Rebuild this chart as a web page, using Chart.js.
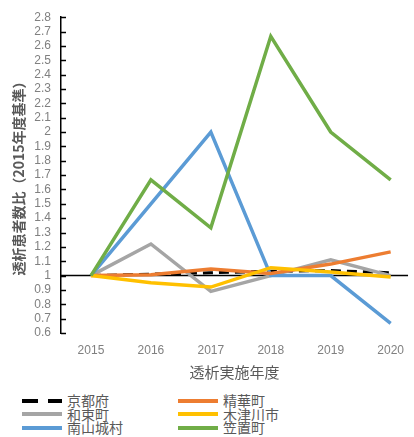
<!DOCTYPE html>
<html lang="ja">
<head>
<meta charset="UTF-8">
<title>透析患者数比</title>
<script src="https://cdn.jsdelivr.net/npm/chart.js"></script>
<style>
  body { margin: 0; background: #fff; font-family: "Liberation Sans", "Noto Sans CJK JP", sans-serif; }
  .wrap { position: relative; width: 414px; height: 437px; overflow: hidden; }
  #chart { position: absolute; left: 0; top: 0; }
  .legend { position: absolute; left: 22px; top: 394px; display: grid; grid-template-columns: 156px 180px; grid-auto-flow: column; grid-template-rows: repeat(3, 13.5px); }
  .legend div { display: flex; align-items: center; font-size: 14px; color: #595959; font-family: "Noto Sans CJK JP", sans-serif; line-height: 13.5px; white-space: nowrap; }
  .legend span { display: inline-block; width: 40px; height: 4px; margin-right: 5px; }
</style>
</head>
<body>
<div class="wrap">
  <canvas id="chart" width="414" height="381"></canvas>
  <div class="legend" id="legend"></div>
</div>
<script>
// fiscal years
const years = [2015, 2016, 2017, 2018, 2019, 2020];

// ratio of dialysis patients vs FY2015
const kyotoFu     = [1, 1.01, 1.02, 1.03, 1.035, 1.02];
const wazukaCho   = [1, 1.22, 0.89, 1.0, 1.11, 1.0];
const minamiyamashiro = [1, 1.5, 2.0, 1.0, 1.0, 0.667];
const seikaCho    = [1, 1.005, 1.045, 1.015, 1.08, 1.165];
const kizugawaShi = [1, 0.95, 0.92, 1.055, 1.025, 0.99];
const kasagiCho   = [1, 1.667, 1.333, 2.667, 2.0, 1.667];

const seriesNames = ['京都府', '和束町', '南山城村', '精華町', '木津川市', '笠置町'];
const seriesData = [kyotoFu, wazukaCho, minamiyamashiro, seikaCho, kizugawaShi, kasagiCho];
const seriesColors = ['#000000', '#A5A5A5', '#5B9BD5', '#ED7D31', '#FFC000', '#70AD47'];

const datasets = seriesNames.map((name, i) => ({
  label: name,
  data: years.map((y, j) => ({ x: y, y: seriesData[i][j] })),
  borderColor: seriesColors[i],
  backgroundColor: seriesColors[i],
  borderWidth: i === 0 ? 3 : 3.5,
  borderDash: i === 0 ? [10, 6] : [],
  order: seriesNames.length - i, // first series painted first (underneath)
  pointRadius: 0,
  tension: 0,
  fill: false
}));

// horizontal axis line at 1 and inner tick marks on the y axis
const axisLines = {
  id: 'axisLines',
  beforeDatasetsDraw(chart) {
    const { ctx, chartArea, scales } = chart;
    const y1 = scales.y.getPixelForValue(1);
    ctx.save();
    ctx.strokeStyle = '#000';
    ctx.lineWidth = 1.5;
    ctx.beginPath();
    ctx.moveTo(chartArea.left, y1);
    ctx.lineTo(chartArea.right, y1);
    ctx.stroke();
    scales.y.ticks.forEach(t => {
      const py = Math.round(scales.y.getPixelForValue(t.value)) + 0.5;
      ctx.beginPath();
      ctx.moveTo(chartArea.left, py);
      ctx.lineTo(chartArea.left + 5, py);
      ctx.stroke();
    });
    ctx.restore();
  }
};

new Chart(document.getElementById('chart'), {
  type: 'line',
  data: { datasets: datasets },
  options: {
    responsive: false,
    animation: false,
    layout: { padding: { top: 10, right: 0, bottom: 0, left: 0 } },
    plugins: { legend: { display: false }, tooltip: { enabled: false } },
    scales: {
      x: {
        type: 'linear',
        min: 2014.5,
        max: 2020.29,
        afterBuildTicks: s => { s.ticks = years.map(v => ({ value: v })); },
        afterFit: s => { s.height = 48; },
        grid: { display: false, drawTicks: false },
        border: { display: false },
        ticks: {
          padding: 10,
          color: '#808080',
          font: { size: 12, family: '"Liberation Sans", sans-serif' },
          callback: v => String(v)
        },
        title: {
          display: true,
          text: '透析実施年度',
          color: '#595959',
          font: { size: 15, family: '"Noto Sans CJK JP", sans-serif' },
          padding: { top: 0, bottom: 0 }
        }
      },
      y: {
        min: 0.6,
        max: 2.8,
        afterFit: s => { s.width = 61; },
        grid: { display: true, drawOnChartArea: false, drawTicks: false },
        border: { display: true, color: '#000', width: 1.5 },
        ticks: {
          stepSize: 0.1,
          autoSkip: false,
          padding: 10,
          color: '#808080',
          font: { size: 12, family: '"Liberation Sans", sans-serif' },
          callback: v => String(Math.round(v * 10) / 10)
        },
        title: {
          display: true,
          text: '透析患者数比（2015年度基準）',
          color: '#595959',
          font: { size: 14, weight: 'bold', family: '"Noto Sans CJK JP", sans-serif' },
          padding: { top: 10, bottom: 0 }
        }
      }
    }
  },
  plugins: [axisLines]
});

// legend laid out in two columns like the original
const legendEl = document.getElementById('legend');
seriesNames.forEach((name, i) => {
  const item = document.createElement('div');
  const sw = document.createElement('span');
  sw.style.background = i === 0
    ? 'repeating-linear-gradient(to right, #000 0 16px, transparent 16px 26px)'
    : seriesColors[i];
  item.appendChild(sw);
  item.appendChild(document.createTextNode(name));
  legendEl.appendChild(item);
});
</script>
</body>
</html>
